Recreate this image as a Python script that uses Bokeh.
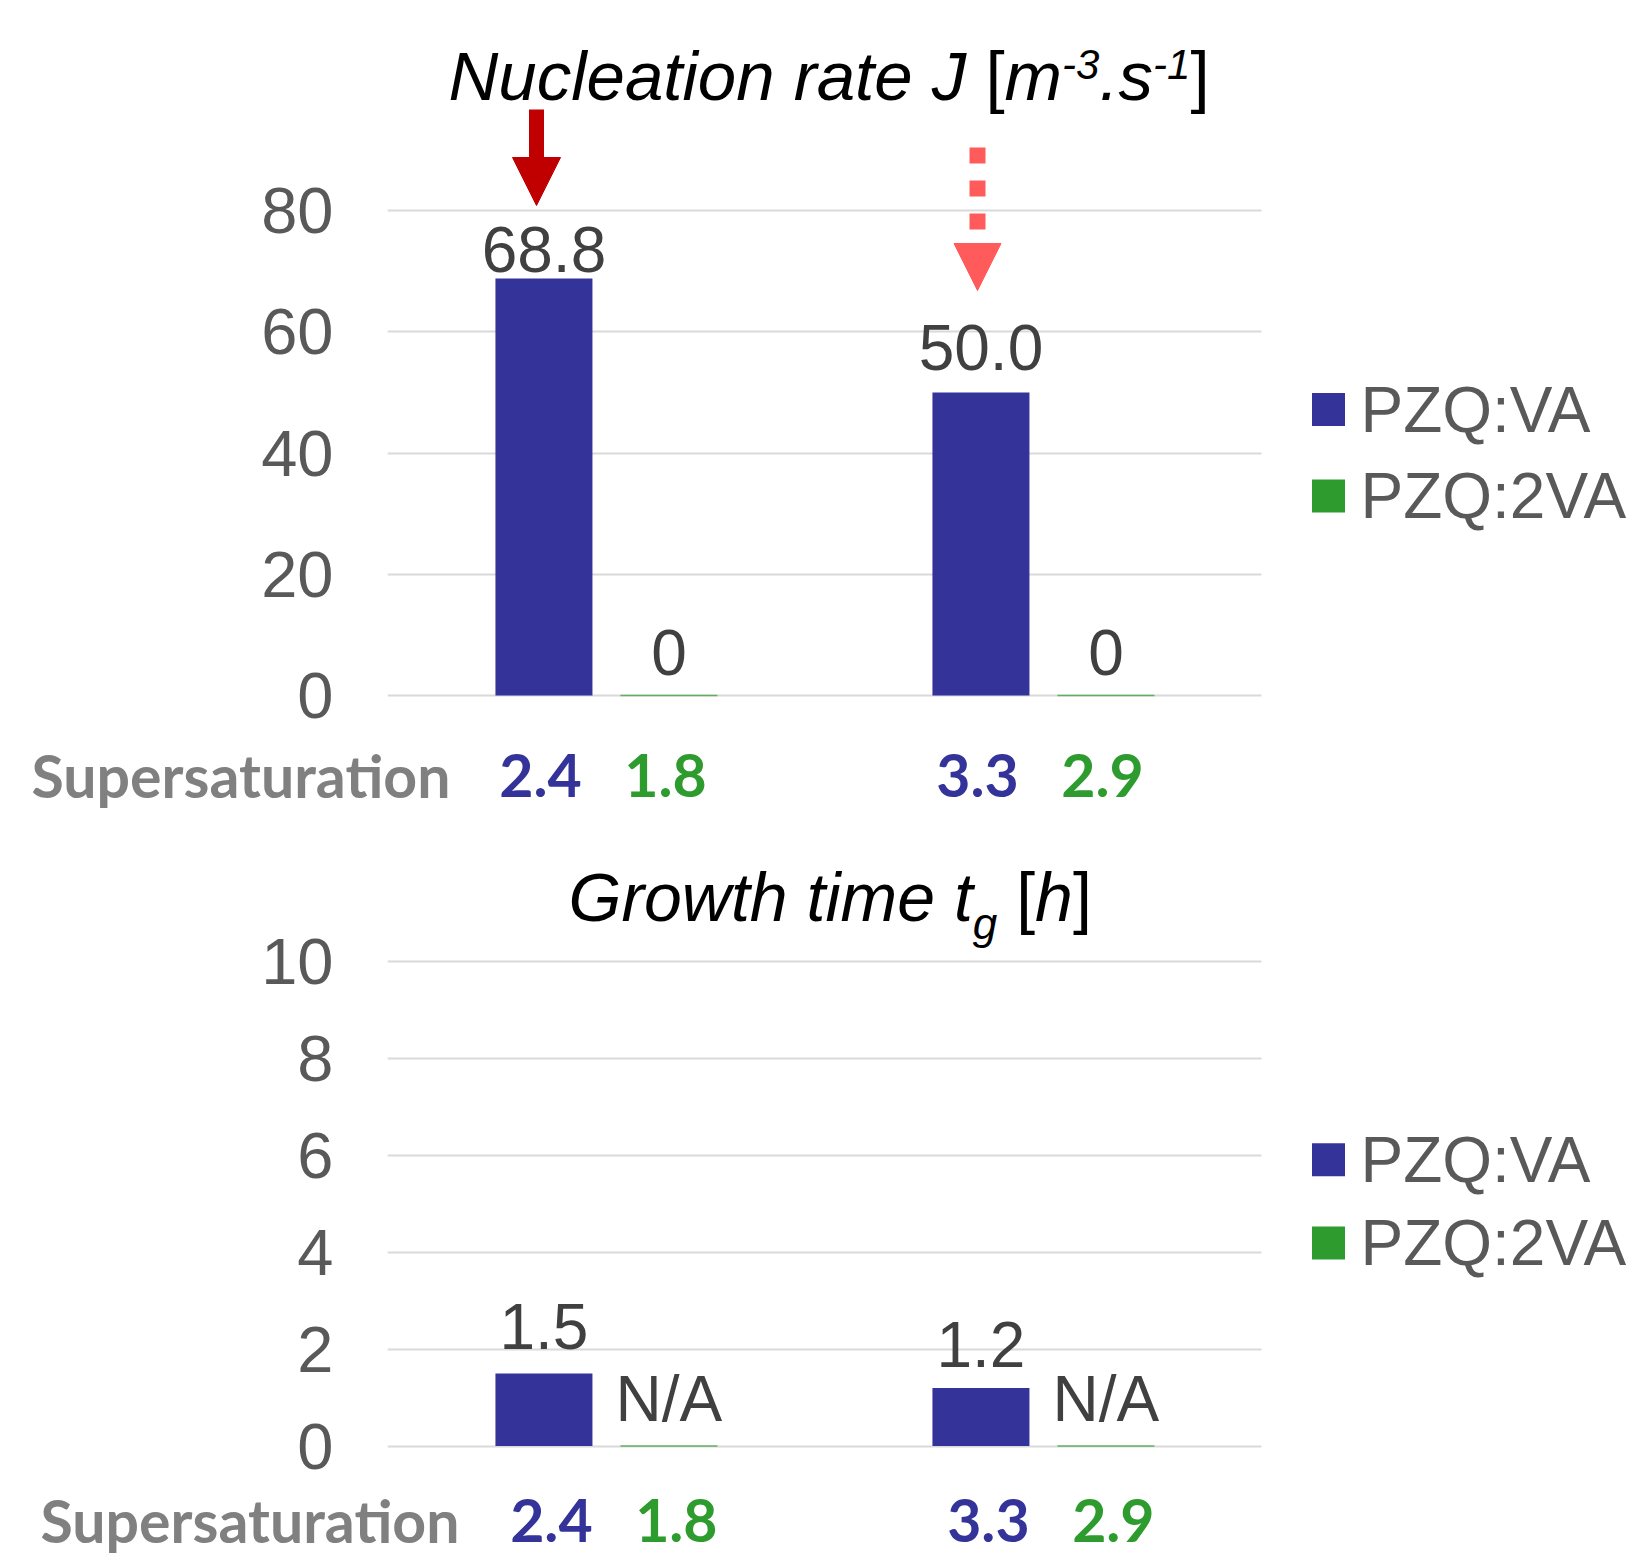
from bokeh.plotting import figure
from bokeh.layouts import column
from bokeh.models import Range1d, FixedTicker, Arrow, NormalHead
from bokeh.core.properties import value
from bokeh.embed import file_html
from bokeh.resources import INLINE

# ---------------- data ----------------
groups = ["Condition A", "Condition B"]
series_names = ["PZQ:VA", "PZQ:2VA"]
nucleation_va = [68.8, 50.0]
nucleation_2va = [0.0, 0.0]
growth_va = [1.5, 1.2]
growth_2va = [None, None]          # N/A
supersat_va = [2.4, 3.3]
supersat_2va = [1.8, 2.9]
nucleation_ticks = [0, 20, 40, 60, 80]
growth_ticks = [0, 2, 4, 6, 8, 10]

# ---------------- style ----------------
BLUE = "#333399"
GREEN = "#2E9B2E"
FONT = "Liberation Sans"
BOLD_FONT = "Lato"
FIG_W = 1633
FRAME_LEFT = 387
CAT_PX = 437
X_START = -FRAME_LEFT / CAT_PX
X_END = (FIG_W - FRAME_LEFT) / CAT_PX
OFF_A, OFF_B, BAR_W = -0.142, 0.144, 0.222

AW = {'N': 722, 'u': 556, 'c': 500, 'l': 222, 'e': 556, 'a': 556, 't': 278, 'i': 222,
      'o': 556, 'n': 556, ' ': 278, 'r': 333, 'J': 500, '[': 278, ']': 278, 'm': 833,
      '-': 333, '3': 556, '1': 556, '.': 278, 's': 500, 'G': 778, 'w': 722, 'h': 556,
      'g': 556}


def twidth(s, size):
    return sum(AW.get(c, 556) for c in s) / 1000.0 * size


def fmt_nuc(v):
    return "0" if v == 0 else f"{v:.1f}"


def fmt_growth(v):
    return "N/A" if v is None else f"{v:.1f}"


def X(px):
    return (px - FRAME_LEFT) / CAT_PX


n = len(groups)
xa = [i + 0.5 + OFF_A for i in range(n)]
xb = [i + 0.5 + OFF_B for i in range(n)]


def hide_grids(p):
    for g in p.grid:
        if g.dimension == 0:
            g.visible = False


def panel(top_full, height, zero_full, unit_px, ticks, va, va2, lab_va, lab_va2,
          offs_va, offs_va2, title_pieces, title_start, legend_rows, arrows=()):
    y0 = zero_full - top_full

    def Y(py):
        return (y0 - (py - top_full)) / unit_px

    p = figure(width=FIG_W, height=height,
               x_range=Range1d(0, X_END),
               y_range=Range1d(-(height - y0) / unit_px, y0 / unit_px),
               output_backend="svg", toolbar_location=None, x_axis_location=None,
               min_border_left=FRAME_LEFT, min_border_right=0,
               min_border_top=0, min_border_bottom=0)
    p.frame_align = False
    p.outline_line_color = None
    p.background_fill_color = "white"
    p.border_fill_color = "white"
    hide_grids(p)

    ax = p.yaxis[0]
    ax.ticker = FixedTicker(ticks=ticks)
    ax.axis_line_color = None
    ax.major_tick_line_color = None
    ax.minor_tick_line_color = None
    ax.major_tick_out = 0
    ax.major_tick_in = 0
    ax.major_label_standoff = 54
    ax.major_label_text_font = FONT
    ax.major_label_text_font_size = "65px"
    ax.major_label_text_color = "#595959"

    g = p.ygrid[0]
    g.ticker = FixedTicker(ticks=ticks)
    g.grid_line_color = "#D9D9D9"
    g.grid_line_width = 2
    g.cross_bounds = (0, len(groups))

    vb = [0 if v is None else v for v in va2]
    p.vbar(x=xa, top=va, bottom=0, width=BAR_W, fill_color=BLUE, line_color=None)
    p.vbar(x=xb, top=vb, bottom=0, width=BAR_W, fill_color=GREEN,
           line_color=GREEN, line_width=1.5, line_alpha=0.7)

    p.text(x=xa, y=va, text=lab_va, y_offset=offs_va, text_align="center",
           text_baseline="middle", text_font=value(FONT), text_font_size="64px",
           text_color="#404040")
    p.text(x=xb, y=vb, text=lab_va2, y_offset=offs_va2, text_align="center",
           text_baseline="middle", text_font=value(FONT), text_font_size="64px",
           text_color="#404040")

    # legend
    for name, color, yrow in zip(series_names, [BLUE, GREEN], legend_rows):
        p.scatter(x=[X(1328)], y=[Y(yrow)], marker="square", size=33,
                  fill_color=color, line_color=None)
        p.text(x=[X(1360)], y=[Y(yrow)], text=[name], text_align="left",
               text_baseline="middle", text_font=value(FONT), text_font_size="64px",
               text_color="#595959")

    # title (pieces laid out left to right)
    xp = title_start
    for text, size, style, ymid in title_pieces:
        if text.strip():
            p.text(x=[X(xp)], y=[Y(ymid)], text=[text], text_align="left",
                   text_baseline="middle", text_font=value(FONT),
                   text_font_size=f"{size}px", text_font_style=style, text_color="black")
        xp += twidth(text, size)

    # arrows
    for ax_px, y_start, y_tip, color, lw, dash, head in arrows:
        p.add_layout(Arrow(end=NormalHead(size=head, fill_color=color, line_color=color,
                                          line_width=1),
                           x_start=X(ax_px), y_start=Y(y_start),
                           x_end=X(ax_px), y_end=Y(y_tip),
                           line_color=color, line_width=lw, line_dash=dash))
    return p


def strip(top_full, height, ymid_full, word_left, shift):
    p = figure(width=FIG_W, height=height,
               x_range=Range1d(X_START, X_END), y_range=Range1d(0, height),
               output_backend="svg", toolbar_location=None,
               x_axis_location=None, y_axis_location=None,
               min_border_left=0, min_border_right=0,
               min_border_top=0, min_border_bottom=0)
    p.frame_align = False
    p.outline_line_color = None
    p.background_fill_color = "white"
    p.border_fill_color = "white"
    for g in p.grid:
        g.visible = False
    ym = top_full + height - ymid_full
    common = dict(text_baseline="middle", text_font=value(BOLD_FONT),
                  text_font_style="bold", text_font_size="59px")
    p.text(x=[X(word_left)], y=[ym], text=["Supersaturation"], text_align="left",
           text_color="#808080", **common)
    p.text(x=[x + shift for x in xa], y=[ym] * n, text=[f"{v:.1f}" for v in supersat_va],
           text_align="center", text_color=BLUE, **common)
    p.text(x=[x + shift for x in xb], y=[ym] * n, text=[f"{v:.1f}" for v in supersat_2va],
           text_align="center", text_color=GREEN, **common)
    return p


top_title = [("Nucleation rate J", 69, "italic", 75.5), (" ", 69, "italic", 75.5),
             ("[", 69, "normal", 75.5), ("m", 69, "italic", 75.5),
             ("-3", 42, "italic", 63.5), (".s", 69, "italic", 75.5),
             ("-1", 42, "italic", 63.5), ("]", 69, "normal", 75.5)]
bottom_title = [("Growth time t", 68, "italic", 896), ("g", 44, "italic", 922.5),
                (" ", 68, "normal", 896), ("[", 68, "normal", 896),
                ("h", 68, "italic", 896), ("]", 68, "normal", 896)]

H1, HS1, H2, HS2 = 737, 93, 653, 73

p1 = panel(top_full=0, height=H1, zero_full=695, unit_px=6.0625, ticks=nucleation_ticks,
           va=nucleation_va, va2=nucleation_2va,
           lab_va=[fmt_nuc(v) for v in nucleation_va],
           lab_va2=[fmt_nuc(v) for v in nucleation_2va],
           offs_va=[-28.5, -45], offs_va2=[-43, -43],
           title_pieces=top_title, title_start=448, legend_rows=[409, 495.5],
           arrows=[(536, 109, 205, "#C00000", 15, "solid", 48),
                   (977, 147, 290, "#FF5B5B", 16, "16 17", 47)])
s1 = strip(top_full=H1, height=HS1, ymid_full=775, word_left=31, shift=-0.008)

p2 = panel(top_full=H1 + HS1, height=H2, zero_full=1445.6, unit_px=48.43,
           ticks=growth_ticks, va=growth_va, va2=growth_2va,
           lab_va=[fmt_growth(v) for v in growth_va],
           lab_va2=[fmt_growth(v) for v in growth_2va],
           offs_va=[-47, -43.5], offs_va2=[-47, -47],
           title_pieces=bottom_title, title_start=568, legend_rows=[1159.2, 1242.5])
s2 = strip(top_full=H1 + HS1 + H2, height=HS2, ymid_full=1520, word_left=40, shift=0.017)

layout = column(p1, s1, p2, s2, spacing=0)
open("out.html", "w").write(file_html(layout, INLINE))
